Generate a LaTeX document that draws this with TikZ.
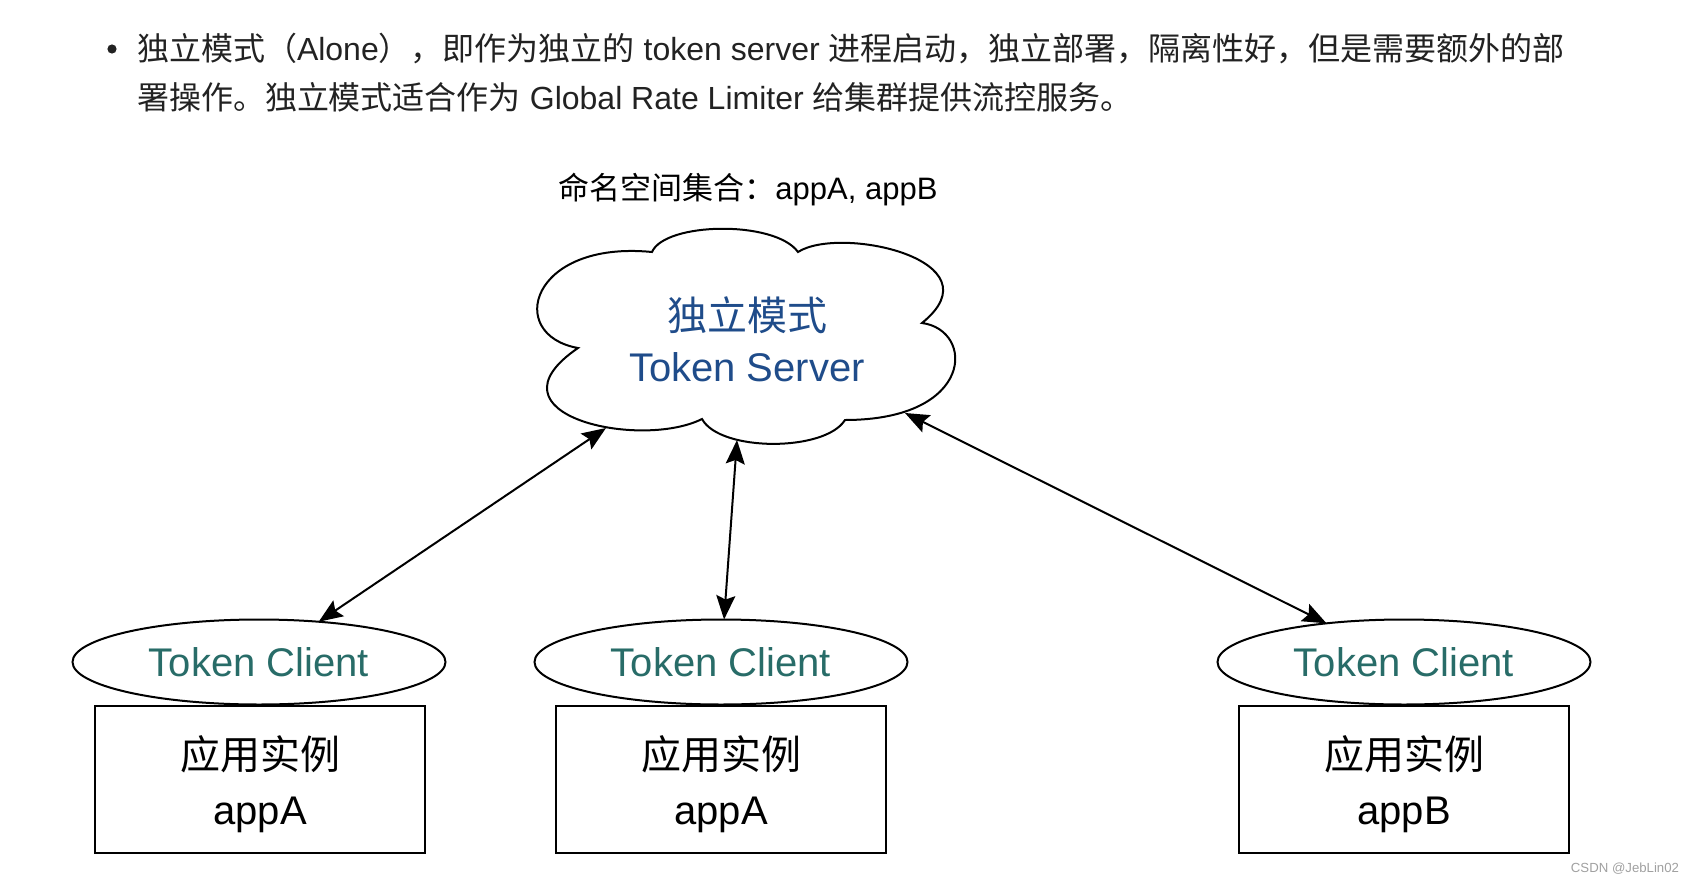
\documentclass[tikz,border=0pt]{standalone}
\usepackage{fontspec}
\setmainfont{Liberation Sans}
\newfontfamily\cjk{Noto Sans CJK SC}
\usetikzlibrary{arrows.meta,shapes.geometric}
\definecolor{bodytext}{RGB}{34,34,34}
\definecolor{srvblue}{RGB}{31,76,138}
\definecolor{clientteal}{RGB}{40,108,104}
\definecolor{wmgray}{RGB}{160,160,160}
\begin{document}
\begin{tikzpicture}[x={(0.5pt,0)}, y={(0,-0.5pt)},
  line width=1pt,
  bodyline/.style={anchor=west, inner sep=0, text=bodytext, font=\fontsize{16}{20}\selectfont},
  clientell/.style={draw, ellipse, minimum width=186.5pt, minimum height=42.5pt, inner sep=0, outer sep=0, text=clientteal, font=\fontsize{20}{24}\selectfont},
  appbox/.style={draw, rectangle, minimum width=165pt, minimum height=73.5pt, inner sep=0, outer sep=0},
  apptext/.style={align=center, inner sep=0, font=\fontsize{20}{27.5}\selectfont},
  link/.style={{Stealth[length=12pt,width=9.5pt,inset=2pt]}-{Stealth[length=12pt,width=9.5pt,inset=2pt]}, line width=1pt},
]
\useasboundingbox (0,0) rectangle (1694,884);

% intro text
\node[circle, fill=bodytext, minimum size=4.6pt, inner sep=0] (bullet) at (112,49) {};
\node[bodyline] (line1) at (136,49) {{\cjk 独立模式（}Alone{\cjk ），即作为独立的} token server {\cjk 进程启动，独立部署，隔离性好，但是需要额外的部}};
\node[bodyline] (line2) at (136,97) {{\cjk 署操作。独立模式适合作为} Global Rate Limiter {\cjk 给集群提供流控服务。}};

% title
\node[font=\fontsize{15.5}{18}\selectfont] (title) at (748,190) {{\cjk 命名空间集合：}appA, appB};

% cloud
\draw (652,252) .. controls (665,222) and (775,220) .. (798,252)
  .. controls (840,225) and (1000,260) .. (922,323)
  .. controls (975,330) and (975,420) .. (845,420)
  .. controls (825,452) and (720,452) .. (702,419)
  .. controls (640,450) and (480,415) .. (578,348)
  .. controls (505,335) and (530,240) .. (652,252) -- cycle;
\node[text=srvblue, align=center, font=\fontsize{20}{25.5}\selectfont] (server) at (747,339) {{\cjk 独立模式}\\Token Server};
\coordinate (srvA) at (606,428);
\coordinate (srvB) at (737,440);
\coordinate (srvC) at (905,413);

% clients
\node[clientell] (c1) at (259,662) {Token Client};
\node[clientell] (c2) at (721,662) {Token Client};
\node[clientell] (c3) at (1404,662) {Token Client};

\node[appbox] (a1) at (260,779) {};
\node[appbox] (a2) at (721,779) {};
\node[appbox] (a3) at (1404,779) {};
\node[apptext] (a1t) at (260,784) {{\cjk 应用实例}\\appA};
\node[apptext] (a2t) at (721,784) {{\cjk 应用实例}\\appA};
\node[apptext] (a3t) at (1404,784) {{\cjk 应用实例}\\appB};

% connectors
\draw[link] (c1) -- (srvA);
\draw[link] (c2) -- (srvB);
\draw[link] (c3) -- (srvC);

% watermark
\node[anchor=east, text=wmgray, inner sep=0, font=\fontsize{6.6}{8}\selectfont] (wm) at (1680,869) {CSDN @JebLin02};
\end{tikzpicture}
\end{document}
